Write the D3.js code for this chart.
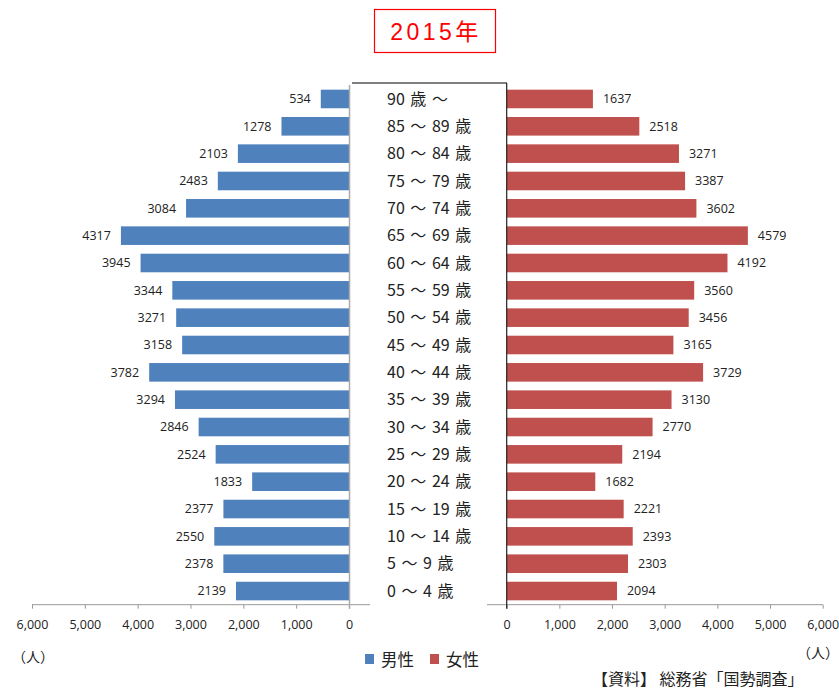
<!DOCTYPE html>
<html><head><meta charset="utf-8">
<script src="https://cdn.jsdelivr.net/npm/d3@7"></script>
<style>
body{margin:0;background:#fff;}
svg{display:block;font-family:"Noto Sans CJK JP","Noto Sans",sans-serif;}
.num{font-family:"Open Sans","Liberation Sans",sans-serif;}
</style></head>
<body><svg id="c" width="839" height="691"></svg>
<script>
const ages = ["90 歳 ～","85 ～ 89 歳","80 ～ 84 歳","75 ～ 79 歳","70 ～ 74 歳","65 ～ 69 歳","60 ～ 64 歳","55 ～ 59 歳","50 ～ 54 歳","45 ～ 49 歳","40 ～ 44 歳","35 ～ 39 歳","30 ～ 34 歳","25 ～ 29 歳","20 ～ 24 歳","15 ～ 19 歳","10 ～ 14 歳","5 ～ 9 歳","0 ～ 4 歳"];
const male = [534,1278,2103,2483,3084,4317,3945,3344,3271,3158,3782,3294,2846,2524,1833,2377,2550,2378,2139];
const female = [1637,2518,3271,3387,3602,4579,4192,3560,3456,3165,3729,3130,2770,2194,1682,2221,2393,2303,2094];
const ticks = [0,1000,2000,3000,4000,5000,6000];
const title = "2015年";
const legendNames = ["男性","女性"];
const unit = "（人）";
const source = "【資料】 総務省「国勢調査」";

const colM = "#4F81BD", colF = "#C0504D";
const svg = d3.select("#c");
const xL = d3.scaleLinear().domain([0,6000]).range([349,32]);
const xR = d3.scaleLinear().domain([0,6000]).range([506.7,822.7]);
const y = d3.scaleBand().domain(ages).range([85.3,604.7]).paddingInner(0.32).paddingOuter(0.16);
const axisY = 604.7;

// title
svg.append("rect").attr("x",374.5).attr("y",9.5).attr("width",121).attr("height",43)
  .attr("fill","#fff").attr("stroke","#FF0000").attr("stroke-width",1.2);
svg.append("text").attr("x",436).attr("y",40).attr("text-anchor","middle")
  .attr("font-size",23).attr("letter-spacing",3.5).attr("fill","#FF0000")
  .attr("font-family","'Liberation Sans','Noto Sans CJK JP',sans-serif").text(title);

// bars
svg.append("g").selectAll("rect").data(male).join("rect")
  .attr("x",d=>xL(d)).attr("y",(d,i)=>y(ages[i])).attr("width",d=>xL(0)-xL(d)).attr("height",y.bandwidth()).attr("fill",colM);
svg.append("g").selectAll("rect").data(female).join("rect")
  .attr("x",xR(0)).attr("y",(d,i)=>y(ages[i])).attr("width",d=>xR(d)-xR(0)).attr("height",y.bandwidth()).attr("fill",colF);

// value labels
svg.append("g").selectAll("text").data(male).join("text").attr("class","num")
  .attr("x",d=>xL(d)-10).attr("y",(d,i)=>y(ages[i])+y.bandwidth()/2).attr("dy","0.35em")
  .attr("text-anchor","end").attr("font-size",12.5).attr("fill","#222").text(d=>d);
svg.append("g").selectAll("text").data(female).join("text").attr("class","num")
  .attr("x",d=>xR(d)+10).attr("y",(d,i)=>y(ages[i])+y.bandwidth()/2).attr("dy","0.35em")
  .attr("text-anchor","start").attr("font-size",12.5).attr("fill","#222").text(d=>d);

// axes
const fmt = d3.format(",");
const axL = svg.append("g").attr("transform",`translate(0,${axisY})`)
  .call(d3.axisBottom(xL).tickValues(ticks).tickFormat(fmt).tickSize(4).tickSizeOuter(0));
const axR = svg.append("g").attr("transform",`translate(0,${axisY})`)
  .call(d3.axisBottom(xR).tickValues(ticks).tickFormat(fmt).tickSize(4).tickSizeOuter(0));
[axL,axR].forEach(a=>{
  a.select(".domain").remove();
  a.selectAll(".tick line").attr("stroke","#999");
  a.selectAll(".tick text").attr("class","num").attr("font-size",12.5).attr("fill","#222").attr("y",20).attr("dy","0.35em");
});
svg.append("line").attr("x1",32).attr("x2",370).attr("y1",axisY).attr("y2",axisY).attr("stroke","#999");
svg.append("line").attr("x1",487).attr("x2",823).attr("y1",axisY).attr("y2",axisY).attr("stroke","#999");

// middle box
svg.append("line").attr("x1",349.5).attr("x2",349.5).attr("y1",85).attr("y2",axisY+4).attr("stroke","#aaa").attr("stroke-width",1.5);
svg.append("line").attr("x1",352).attr("x2",507).attr("y1",83).attr("y2",83).attr("stroke","#000").attr("stroke-width",1.2);
svg.append("line").attr("x1",506.7).attr("x2",506.7).attr("y1",83).attr("y2",axisY+4).attr("stroke","#222").attr("stroke-width",1.2);

// age labels
svg.append("g").selectAll("text").data(ages).join("text")
  .attr("x",387).attr("y",d=>y(d)+y.bandwidth()/2).attr("dy","0.36em")
  .attr("font-size",16).attr("word-spacing",2).attr("fill","#222").text(d=>d);

// units
svg.append("text").attr("x",12).attr("y",657).attr("dy","0.35em").attr("font-size",14).attr("fill","#222").text(unit);
svg.append("text").attr("x",839).attr("y",653).attr("dy","0.35em").attr("text-anchor","end").attr("font-size",14).attr("fill","#222").text(unit);

// legend
svg.append("rect").attr("x",365).attr("y",654).attr("width",9).attr("height",10).attr("fill",colM);
svg.append("text").attr("x",381).attr("y",660).attr("dy","0.36em").attr("font-size",16.5).attr("fill","#222").text(legendNames[0]);
svg.append("rect").attr("x",430).attr("y",654).attr("width",9).attr("height",10).attr("fill",colF);
svg.append("text").attr("x",446).attr("y",660).attr("dy","0.36em").attr("font-size",16.5).attr("fill","#222").text(legendNames[1]);

// source
svg.append("text").attr("x",592).attr("y",679).attr("dy","0.36em").attr("font-size",16).attr("fill","#222").text(source);
</script></body></html>
